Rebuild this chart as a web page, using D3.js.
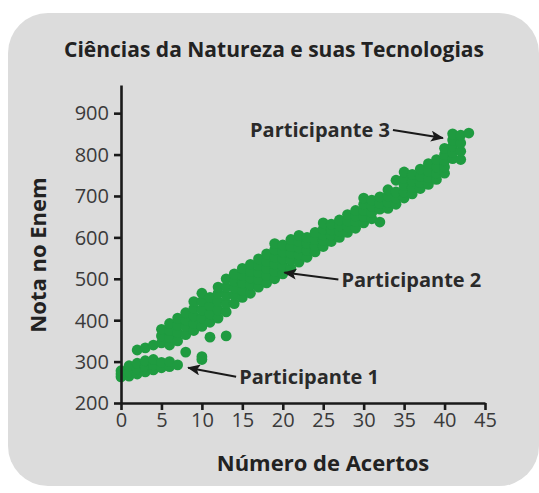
<!DOCTYPE html>
<html>
<head>
<meta charset="utf-8">
<script src="https://cdn.jsdelivr.net/npm/d3@7"></script>
<style>
  body { margin: 0; background: #fff; }
  text { font-family: 'Open Sans', sans-serif; }
</style>
</head>
<body>
<div id="chart"></div>
<script>
// numero de acertos (0 a 43) e as notas observadas para cada um
let acertos = [0, 1, 2, 3, 4, 5, 6, 7, 8, 9, 10, 11, 12, 13, 14, 15, 16, 17, 18, 19, 20, 21,
  22, 23, 24, 25, 26, 27, 28, 29, 30, 31, 32, 33, 34, 35, 36, 37, 38, 39, 40, 41, 42, 43]

let notas = [
  [263, 270, 278],
  [265, 275, 290],
  [270, 282, 296, 328],
  [275, 288, 302, 333],
  [280, 292, 305, 340],
  [285, 298, 345, 362, 378],
  [288, 300, 340, 358, 375, 392],
  [292, 350, 370, 388, 405],
  [323, 365, 385, 400, 418],
  [375, 392, 410, 428, 445],
  [305, 312, 385, 405, 425, 445, 465],
  [359, 395, 415, 435, 455],
  [405, 425, 445, 465, 480],
  [362, 420, 440, 460, 480, 500],
  [440, 460, 478, 495, 512],
  [455, 472, 490, 508, 525],
  [465, 485, 502, 518, 535],
  [480, 498, 515, 532, 548],
  [490, 508, 525, 542, 560],
  [500, 518, 535, 552, 570, 585],
  [512, 530, 548, 565, 582],
  [525, 545, 562, 578, 595],
  [540, 558, 575, 590, 605],
  [552, 568, 585, 600],
  [565, 580, 595, 612],
  [578, 592, 606, 620, 635],
  [590, 605, 618, 632],
  [600, 615, 628, 642],
  [612, 625, 640, 655],
  [622, 638, 652, 665],
  [635, 650, 665, 680, 695],
  [645, 660, 675, 690],
  [637, 668, 682, 698],
  [670, 685, 700, 715],
  [680, 695, 710, 738],
  [695, 710, 725, 742, 758],
  [705, 720, 735, 752],
  [718, 732, 748, 765],
  [728, 745, 760, 778],
  [740, 755, 770, 788],
  [755, 770, 785, 800, 815],
  [790, 805, 820, 835, 850],
  [788, 808, 828, 847],
  [852]
]

// participantes destacados: ponto apontado pela seta
let participantes = ['Participante 1', 'Participante 2', 'Participante 3']
let participanteAcertos = [8.3, 20.2, 39.8]
let participanteNotas = [285, 515, 840]

let xTicks = [0, 5, 10, 15, 20, 25, 30, 35, 40, 45]
let yTicks = [200, 300, 400, 500, 600, 700, 800, 900]

let W = 539
let H = 493
let margin = { top: 85, left: 121, right: 54, bottom: 90 }
let width = W - margin.left - margin.right
let height = H - margin.top - margin.bottom

let svg = d3
  .select('#chart')
  .append('svg')
  .attr('width', W)
  .attr('height', H)

svg
  .append('rect')
  .attr('x', 8)
  .attr('y', 13)
  .attr('width', 531)
  .attr('height', 473)
  .attr('rx', 40)
  .attr('fill', '#dcdcdc')

let defs = svg.append('defs')
defs
  .append('marker')
  .attr('id', 'seta')
  .attr('viewBox', '0 0 13 11')
  .attr('refX', 12)
  .attr('refY', 5.5)
  .attr('markerWidth', 13)
  .attr('markerHeight', 11)
  .attr('markerUnits', 'userSpaceOnUse')
  .attr('orient', 'auto')
  .append('path')
  .attr('d', 'M0,0 L13,5.5 L0,11 L3,5.5 Z')
  .attr('fill', '#1a1a1a')

let g = svg
  .append('g')
  .attr('transform', 'translate(' + margin.left + ',' + margin.top + ')')

let xPositionScale = d3.scaleLinear().domain([0, 45]).range([0, width])
let yPositionScale = d3.scaleLinear().domain([200, 968]).range([height, 0])

let pontos = []
acertos.forEach((a, i) => {
  notas[i].forEach(n => pontos.push({ acertos: a, nota: n }))
})

g.selectAll('.ponto')
  .data(pontos)
  .enter()
  .append('circle')
  .attr('class', 'ponto')
  .attr('cx', d => xPositionScale(d.acertos))
  .attr('cy', d => yPositionScale(d.nota))
  .attr('r', 5.4)
  .attr('fill', '#1f9b40')

let xAxis = d3
  .axisBottom(xPositionScale)
  .tickValues(xTicks)
  .tickSize(7)
  .tickSizeOuter(0)
  .tickPadding(3)

let yAxis = d3
  .axisLeft(yPositionScale)
  .tickValues(yTicks)
  .tickSize(7)
  .tickSizeOuter(0)
  .tickPadding(5)

g.append('g')
  .attr('class', 'axis y-axis')
  .call(yAxis)

g.append('g')
  .attr('class', 'axis x-axis')
  .attr('transform', 'translate(0,' + height + ')')
  .call(xAxis)

g.selectAll('.axis path, .axis line')
  .attr('stroke', '#1a1a1a')
  .attr('stroke-width', 2.6)

g.selectAll('.axis text')
  .attr('fill', '#3a3a3a')
  .attr('font-size', 20)
  .style('font-family', "'Open Sans', sans-serif")

g.selectAll('.y-axis .tick text').attr('dy', '0.34em')

// setas e rotulos dos participantes
let labelDx = [48, 54, -50]
let labelDy = [9, 7, -8]

participantes.forEach((p, i) => {
  let tx = xPositionScale(participanteAcertos[i])
  let ty = yPositionScale(participanteNotas[i])
  let lx = tx + labelDx[i]
  let ly = ty + labelDy[i]
  g.append('line')
    .attr('x1', lx)
    .attr('y1', ly)
    .attr('x2', tx)
    .attr('y2', ty)
    .attr('stroke', '#1a1a1a')
    .attr('stroke-width', 2)
    .attr('marker-end', 'url(#seta)')
  g.append('text')
    .attr('x', i === 2 ? lx - 3 : lx + 3)
    .attr('y', ly)
    .attr('dy', '0.35em')
    .attr('text-anchor', i === 2 ? 'end' : 'start')
    .attr('font-size', 20)
    .attr('font-weight', 700)
    .attr('fill', '#2a2a2a')
    .text(p)
})

svg
  .append('text')
  .attr('x', 274)
  .attr('y', 50)
  .attr('dy', '0.35em')
  .attr('text-anchor', 'middle')
  .attr('font-size', 21)
  .attr('font-weight', 700)
  .attr('fill', '#222')
  .text('Ciências da Natureza e suas Tecnologias')

svg
  .append('text')
  .attr('x', 323)
  .attr('y', 463)
  .attr('dy', '0.35em')
  .attr('text-anchor', 'middle')
  .attr('font-size', 22)
  .attr('font-weight', 700)
  .attr('fill', '#222')
  .text('Número de Acertos')

svg
  .append('text')
  .attr('transform', 'translate(38,255) rotate(-90)')
  .attr('dy', '0.35em')
  .attr('text-anchor', 'middle')
  .attr('font-size', 22)
  .attr('font-weight', 700)
  .attr('fill', '#222')
  .text('Nota no Enem')
</script>
</body>
</html>
